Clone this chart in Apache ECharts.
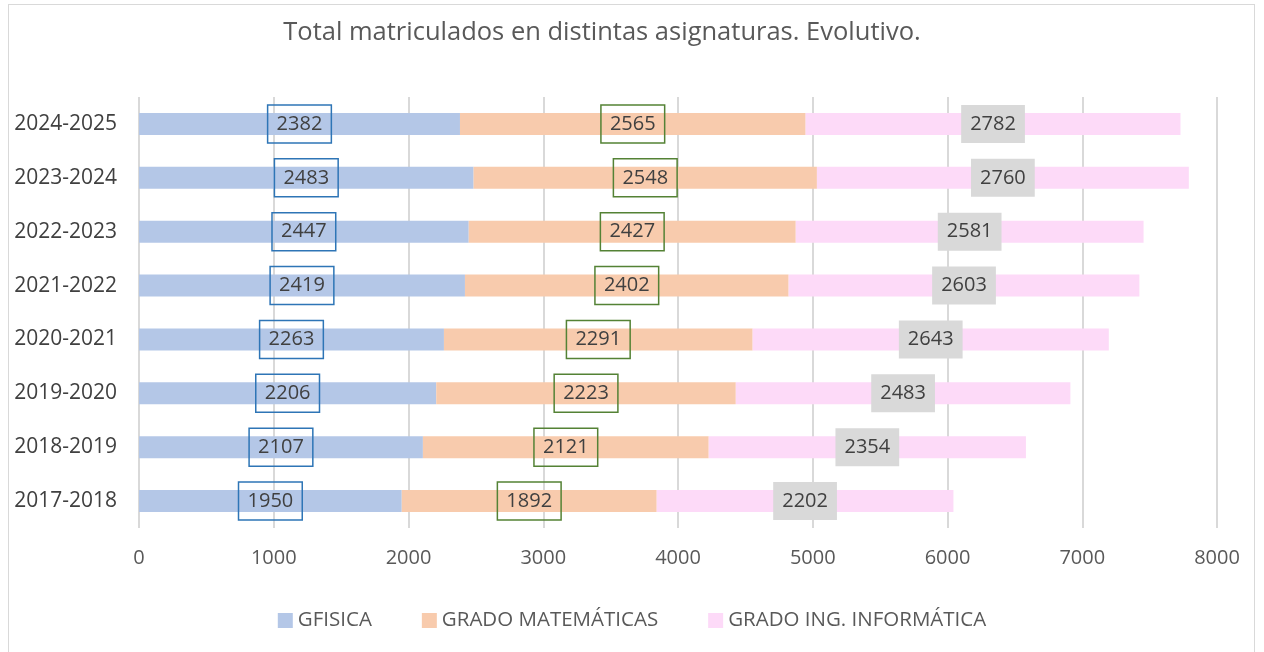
<!DOCTYPE html>
<html>
<head>
<meta charset="utf-8">
<script src="https://cdn.jsdelivr.net/npm/echarts@6/dist/echarts.min.js"></script>
<style>
  html, body { margin: 0; padding: 0; background: #fff; }
  #frame {
    position: absolute; left: 8px; top: 4px; width: 1247px; height: 660px;
    border: 1px solid #d9d9d9; box-sizing: border-box;
  }
  #chart { position: absolute; left: 0; top: 0; width: 1264px; height: 652px; }
</style>
</head>
<body>
<div id="frame"></div>
<div id="chart"></div>
<script>
  // datos
  const cursos = ['2017-2018', '2018-2019', '2019-2020', '2020-2021', '2021-2022', '2022-2023', '2023-2024', '2024-2025'];
  const gfisica = [1950, 2107, 2206, 2263, 2419, 2447, 2483, 2382];
  const matematicas = [1892, 2121, 2223, 2291, 2402, 2427, 2548, 2565];
  const informatica = [2202, 2354, 2483, 2643, 2603, 2581, 2760, 2782];

  const font = '"Open Sans", "Noto Sans", sans-serif';

  function boxLabel(extra) {
    return Object.assign({
      show: true,
      position: 'inside',
      fontFamily: font,
      fontSize: 20,
      color: '#404040',
      padding: [8, 9, 6, 9],
      lineHeight: 24
    }, extra);
  }

  const chart = echarts.init(document.getElementById('chart'));
  chart.setOption({
    animation: false,
    title: {
      text: 'Total matriculados en distintas asignaturas. Evolutivo.',
      left: 597,
      textAlign: 'center',
      top: 15,
      textStyle: { fontFamily: font, fontSize: 25.5, fontWeight: 'normal', color: '#595959' }
    },
    legend: {
      left: 'center',
      top: 605,
      itemWidth: 15,
      itemHeight: 15,
      itemGap: 50,
      icon: 'rect',
      textStyle: { fontFamily: font, fontSize: 20.5, color: '#595959' }
    },
    grid: { left: 139, right: 47, top: 97, bottom: 124 },
    xAxis: {
      type: 'value',
      min: 0,
      max: 8000,
      interval: 1000,
      axisLine: { show: false },
      axisTick: { show: false },
      axisLabel: { fontFamily: font, fontSize: 20, color: '#595959', margin: 20, formatter: v => String(v) },
      splitLine: { lineStyle: { color: '#d9d9d9', width: 2 } }
    },
    yAxis: {
      type: 'category',
      data: cursos,
      axisLine: { show: false },
      axisTick: { show: false },
      axisLabel: { fontFamily: font, fontSize: 21, color: '#404040', margin: 22 }
    },
    series: [
      {
        name: 'GFISICA', type: 'bar', stack: 'total', barWidth: 22, data: gfisica,
        itemStyle: { color: '#b4c7e7' },
        label: boxLabel({ borderColor: '#2e75b6', borderWidth: 1.5 })
      },
      {
        name: 'GRADO MATEMÁTICAS', type: 'bar', stack: 'total', barWidth: 22, data: matematicas,
        itemStyle: { color: '#f8cbad' },
        label: boxLabel({ borderColor: '#548235', borderWidth: 1.5 })
      },
      {
        name: 'GRADO ING. INFORMÁTICA', type: 'bar', stack: 'total', barWidth: 22, data: informatica,
        itemStyle: { color: '#fddaf8' },
        label: boxLabel({ backgroundColor: '#d9d9d9' })
      }
    ]
  });
</script>
</body>
</html>
